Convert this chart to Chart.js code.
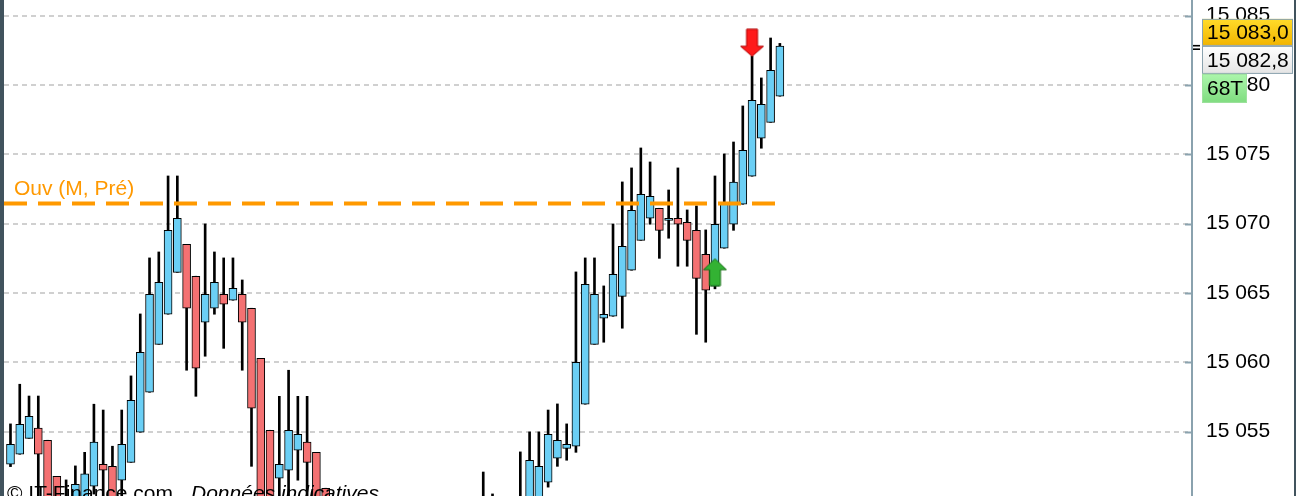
<!DOCTYPE html>
<html>
<head>
<meta charset="utf-8">
<script src="https://cdn.jsdelivr.net/npm/chart.js@4.4.0/dist/chart.umd.min.js"></script>
<style>
  html, body { margin: 0; padding: 0; background: #fff; }
  #wrap { position: relative; width: 1296px; height: 496px; overflow: hidden; }
</style>
</head>
<body>
<div id="wrap"><canvas id="chart" width="1296" height="496"></canvas></div>
<script>
// ── Data ─────────────────────────────────────────────────────────────────────
const opens = [
  15052.65, 15053.37, 15054.52, 15055.25, 15054.38, 15051.78, 15050.20, 15049.50, 15050.00, 15051.06,
  15052.65, 15052.50, 15051.50, 15052.79, 15054.96, 15057.84, 15061.30, 15063.47, 15066.49, 15068.51,
  15066.21, 15062.89, 15063.90, 15064.91, 15064.48, 15064.91, 15063.90, 15060.29, 15055.10, 15051.64,
  15052.22, 15053.66, 15054.24, 15053.51, 15050.92, 15049.50, 15048.20, 15047.50, 15046.90, 15046.00,
  15045.60, 15045.90, 15044.80, 15045.20, 15044.50, 15045.60, 15046.30, 15045.80, 15046.90, 15047.40,
  15047.00, 15048.10, 15049.60, 15048.90, 15049.40, 15049.90, 15050.10, 15050.00, 15051.35, 15053.08,
  15053.80, 15053.95, 15056.98, 15061.30, 15063.18, 15063.32, 15064.76, 15066.64, 15068.80, 15070.39,
  15071.11, 15070.24, 15070.39, 15070.10, 15069.52, 15067.79, 15065.50, 15068.23, 15069.96, 15071.40,
  15073.42, 15076.16, 15077.31, 15079.19
];
const highs = [
  15055.56, 15058.42, 15057.57, 15057.57, 15054.38, 15051.78, 15051.52, 15052.53, 15053.51, 15056.98,
  15056.56, 15053.95, 15056.56, 15059.02, 15063.49, 15067.53, 15067.96, 15073.44, 15073.44, 15068.51,
  15066.21, 15069.98, 15067.96, 15067.53, 15067.53, 15065.94, 15063.90, 15060.29, 15055.10, 15057.55,
  15059.43, 15057.55, 15057.55, 15053.51, 15050.92, 15050.00, 15049.40, 15048.60, 15047.80, 15047.10,
  15046.80, 15046.40, 15046.00, 15045.90, 15046.30, 15047.00, 15046.90, 15047.60, 15048.20, 15048.00,
  15048.90, 15052.09, 15050.51, 15050.00, 15050.20, 15053.54, 15054.98, 15054.98, 15056.56, 15057.00,
  15055.56, 15066.52, 15067.53, 15067.53, 15065.51, 15069.98, 15073.01, 15074.02, 15075.46, 15074.45,
  15071.11, 15072.43, 15074.02, 15070.99, 15071.28, 15069.55, 15073.44, 15075.03, 15075.89, 15078.49,
  15082.09, 15080.51, 15083.39, 15083.00
];
const lows = [
  15052.48, 15053.37, 15054.52, 15049.50, 15048.50, 15048.00, 15048.20, 15049.00, 15049.50, 15050.50,
  15049.50, 15049.00, 15049.80, 15052.79, 15054.96, 15057.84, 15061.30, 15063.47, 15066.49, 15059.43,
  15057.55, 15060.44, 15063.47, 15061.01, 15064.48, 15059.43, 15052.50, 15049.00, 15049.00, 15049.80,
  15049.80, 15051.50, 15049.80, 15049.00, 15049.00, 15047.60, 15046.90, 15046.20, 15045.40, 15044.90,
  15044.70, 15044.20, 15044.00, 15043.80, 15044.10, 15045.00, 15045.20, 15045.40, 15046.30, 15046.50,
  15046.60, 15047.60, 15048.00, 15048.30, 15048.80, 15049.30, 15049.80, 15049.60, 15051.00, 15052.50,
  15052.94, 15053.51, 15056.98, 15061.30, 15061.45, 15063.32, 15062.46, 15066.64, 15068.80, 15069.96,
  15067.50, 15068.95, 15066.93, 15066.93, 15062.02, 15061.45, 15065.30, 15068.23, 15069.52, 15071.40,
  15073.42, 15075.44, 15077.31, 15079.19
];
const closes = [
  15054.09, 15055.53, 15056.11, 15053.37, 15049.00, 15048.50, 15049.20, 15051.21, 15051.95, 15054.24,
  15052.22, 15049.80, 15054.09, 15057.26, 15060.73, 15064.91, 15065.77, 15069.52, 15070.39, 15063.90,
  15059.57, 15064.91, 15065.77, 15064.19, 15065.34, 15062.89, 15056.69, 15049.80, 15049.50, 15052.65,
  15055.10, 15054.81, 15052.79, 15049.80, 15049.50, 15048.20, 15047.50, 15046.90, 15046.00, 15045.60,
  15045.90, 15044.80, 15045.20, 15044.50, 15045.60, 15046.30, 15045.80, 15046.90, 15047.40, 15047.00,
  15048.10, 15049.60, 15048.90, 15049.40, 15049.90, 15050.10, 15052.94, 15052.50, 15054.81, 15054.38,
  15054.09, 15060.00, 15065.63, 15064.91, 15063.47, 15066.35, 15068.37, 15070.97, 15072.12, 15071.98,
  15069.52, 15070.39, 15069.96, 15068.80, 15066.06, 15065.20, 15069.96, 15071.40, 15072.99, 15075.29,
  15078.90, 15078.61, 15081.06, 15082.80
];

const yTicks = [15055, 15060, 15065, 15070, 15075, 15080, 15085];
const yMin = 15050.36, yMax = 15086.13;
const xMin = -0.70, xMax = 127.46;        // room on the right for future bars

const ouvLevel = 15071.46;                 // Ouv (M, Pré)
const ouvLabel = 'Ouv (M, Pré)';
const sellSignal = { x: 80, y: 15083.05 };
const buySignal  = { x: 76, y: 15066.50 };

const tagHigh  = 15083.0;
const tagHighText = '15 083,0';
const tagLastText = '15 082,8';
const tagVolText  = '68T';

const UP = '#6bcff5', DOWN = '#f47172';
const FONT = '"Liberation Sans", Arial, sans-serif';

// ── Helpers ──────────────────────────────────────────────────────────────────
const fmt = v => String(v).replace(/\B(?=(\d{3})+(?!\d))/g, ' ');

function arrowCanvas(dir, fill, stroke, shaftH, headH) {
  const w = 25, sw = 11, h = shaftH + headH + 2;
  const c = document.createElement('canvas');
  c.width = w; c.height = h;
  const g = c.getContext('2d');
  const m = w / 2;
  g.beginPath();
  if (dir === 'down') {
    g.moveTo(m - sw / 2, 1); g.lineTo(m + sw / 2, 1);
    g.lineTo(m + sw / 2, 1 + shaftH); g.lineTo(w - 1, 1 + shaftH);
    g.lineTo(m, h - 1); g.lineTo(1, 1 + shaftH); g.lineTo(m - sw / 2, 1 + shaftH);
  } else {
    g.moveTo(m, 1); g.lineTo(w - 1, 1 + headH); g.lineTo(m + sw / 2, 1 + headH);
    g.lineTo(m + sw / 2, h - 1); g.lineTo(m - sw / 2, h - 1);
    g.lineTo(m - sw / 2, 1 + headH); g.lineTo(1, 1 + headH);
  }
  g.closePath();
  g.fillStyle = fill; g.fill();
  g.lineWidth = 1; g.strokeStyle = stroke; g.stroke();
  return c;
}

function tagBox(ctx, x, y, w, h, c1, c2, stroke, text) {
  const gr = ctx.createLinearGradient(0, y, 0, y + h);
  gr.addColorStop(0, c1); gr.addColorStop(1, c2);
  ctx.fillStyle = gr;
  ctx.fillRect(x, y, w, h);
  ctx.lineWidth = 1; ctx.strokeStyle = stroke;
  ctx.strokeRect(x + 0.5, y + 0.5, w - 1, h - 1);
  ctx.fillStyle = '#000';
  ctx.textAlign = 'left'; ctx.textBaseline = 'middle';
  ctx.font = '21px ' + FONT;
  ctx.fillText(text, x + 5, y + h / 2 + 1);
}

// ── Overlay plugin: labels, tags, frame ──────────────────────────────────────
const overlay = {
  id: 'overlay',
  afterDatasetsDraw(chart) {
    const { ctx, chartArea: ca, scales: { y } } = chart;
    ctx.save();
    ctx.font = '21px ' + FONT;
    ctx.fillStyle = '#ff9900';
    ctx.textAlign = 'left'; ctx.textBaseline = 'alphabetic';
    ctx.fillText(ouvLabel, ca.left + 10, y.getPixelForValue(ouvLevel) - 8);
    ctx.restore();
  },
  afterDraw(chart) {
    const { ctx, chartArea: ca, scales: { y } } = chart;
    ctx.save();
    // inside tick marks
    ctx.strokeStyle = '#8aa2ae'; ctx.lineWidth = 2;
    yTicks.forEach(v => {
      const py = Math.round(y.getPixelForValue(v)) + 0.5;
      ctx.beginPath(); ctx.moveTo(ca.right - 7, py); ctx.lineTo(ca.right, py); ctx.stroke();
    });

    // watermark
    ctx.fillStyle = '#000';
    ctx.textBaseline = 'alphabetic'; ctx.textAlign = 'left';
    ctx.font = '21px ' + FONT;
    ctx.fillText('© IT-Finance.com', 7, 500);
    ctx.font = 'italic 21px ' + FONT;
    ctx.fillText('Données indicatives', 191, 500);

    // price tags
    const ym = y.getPixelForValue(tagHigh);
    const tx = ca.right + 10;
    tagBox(ctx, tx, ym - 24.5, 91, 27, '#ffdc2a', '#f2b400', '#8aa2ae', tagHighText);
    tagBox(ctx, tx, ym + 2.5, 91, 28, '#ffffff', '#e4e4e4', '#8aa2ae', tagLastText);
    tagBox(ctx, tx, ym + 30.5, 45, 29, '#acf6ac', '#7fdc7f', '#9ee29e', tagVolText);
    ctx.fillStyle = '#000';
    ctx.fillRect(ca.right + 1, ym + 1.5, 7, 1.6);
    ctx.fillRect(ca.right + 1, ym + 5, 7, 1.6);

    // dark frame edges
    ctx.fillStyle = '#41535d';
    ctx.fillRect(0, 0, 4, chart.height);
    ctx.fillRect(chart.width - 2, 0, 2, chart.height);
    ctx.restore();
  }
};

// ── Build datasets ───────────────────────────────────────────────────────────
const idx = opens.map((_, i) => i);
const bodyData = idx.map(i => ({ x: i, y: [opens[i], closes[i]] }));
const wickData = idx.map(i => ({ x: i, y: [lows[i], highs[i]] }));
const bodyColors = idx.map(i => closes[i] >= opens[i] ? UP : DOWN);

new Chart(document.getElementById('chart'), {
  type: 'bar',
  data: {
    datasets: [
      {
        type: 'scatter', order: 0,
        data: [sellSignal],
        pointStyle: arrowCanvas('down', '#ff1a1a', '#b00000', 17, 10),
        pointRadius: 5
      },
      {
        type: 'scatter', order: 0,
        data: [buySignal],
        pointStyle: arrowCanvas('up', '#33b233', '#1b6e1b', 16, 11),
        pointRadius: 5
      },
      {
        type: 'line', order: 1,
        data: [{ x: xMin, y: ouvLevel }, { x: 83, y: ouvLevel }],
        borderColor: '#ff9900', borderWidth: 4, borderDash: [23, 11],
        pointRadius: 0, fill: false
      },
      {
        order: 2,
        data: bodyData,
        backgroundColor: bodyColors,
        borderColor: '#000', borderWidth: 1, borderSkipped: false,
        grouped: false, barThickness: 8, maxBarThickness: 8
      },
      {
        order: 3,
        data: wickData,
        backgroundColor: '#000', borderWidth: 0,
        grouped: false, barThickness: 2, maxBarThickness: 2
      }
    ]
  },
  options: {
    responsive: false,
    animation: false,
    events: [],
    layout: { autoPadding: false, padding: { left: 4, right: 0, top: 0, bottom: 0 } },
    plugins: { legend: { display: false }, tooltip: { enabled: false } },
    scales: {
      x: { type: 'linear', display: false, offset: false, min: xMin, max: xMax },
      y: {
        position: 'right',
        min: yMin, max: yMax,
        afterBuildTicks: s => { s.ticks = yTicks.map(v => ({ value: v })); },
        afterFit: s => { s.width = 104; s.paddingTop = 0; s.paddingBottom = 0; },
        grid: { color: '#d0d0d0', lineWidth: 2, drawTicks: false },
        border: { display: true, color: '#8aa2ae', width: 2, dash: [5, 4] },
        ticks: {
          padding: 14, color: '#000',
          font: { size: 21, family: FONT },
          callback: v => fmt(v)
        }
      }
    }
  },
  plugins: [overlay]
});
</script>
</body>
</html>
